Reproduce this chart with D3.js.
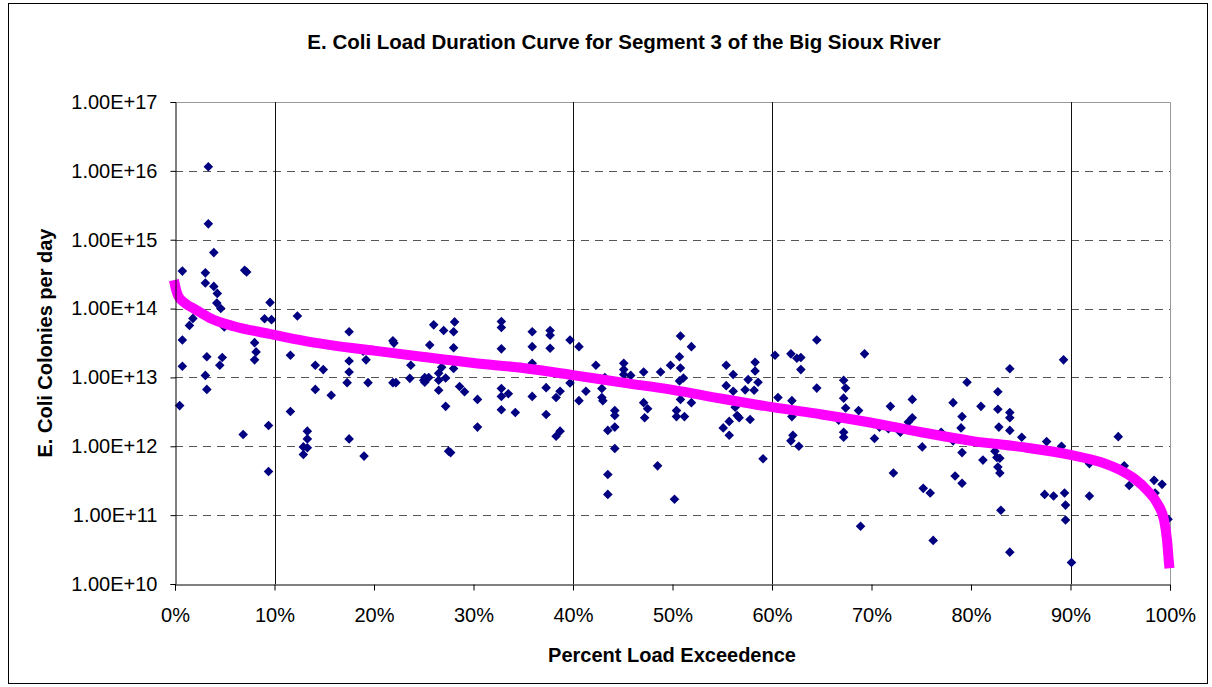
<!DOCTYPE html>
<html>
<head>
<meta charset="utf-8">
<script src="https://cdn.jsdelivr.net/npm/d3@7"></script>
<style>
  html, body { margin: 0; padding: 0; background: #fff; }
  svg { display: block; }
  text { font-family: "Liberation Sans", Arial, sans-serif; }
</style>
</head>
<body>
<svg id="chart" width="1212" height="687"></svg>
<script>
// ---------- DATA ----------
const chartTitle = "E. Coli Load Duration Curve for Segment 3 of the Big Sioux River";
const xAxisTitle = "Percent Load Exceedence";
const yAxisTitle = "E. Coli Colonies per day";

const xTicks = [0, 10, 20, 30, 40, 50, 60, 70, 80, 90, 100];
const xTickLabels = ["0%", "10%", "20%", "30%", "40%", "50%", "60%", "70%", "80%", "90%", "100%"];
const yTicks = [1e10, 1e11, 1e12, 1e13, 1e14, 1e15, 1e16, 1e17];
const yTickLabels = ["1.00E+10", "1.00E+11", "1.00E+12", "1.00E+13", "1.00E+14", "1.00E+15", "1.00E+16", "1.00E+17"];
const flowZoneBreaks = [10, 40, 60, 90];

// Load duration curve (percent exceedance, colonies/day)
const curvePct = [0, 0.1, 0.3, 1, 2, 3.5, 6, 9.5, 13, 16, 20, 25, 30, 35, 40, 45, 50, 55, 60, 65, 70, 75, 80, 85, 90, 93, 95, 96.4, 97.7, 98.7, 99.4, 99.7, 99.85, 99.9];
const curveLoad = [2.2e14, 1.9e14, 1.55e14, 1.2e14, 9.8e13, 7.3e13, 5.5e13, 4.3e13, 3.4e13, 2.9e13, 2.45e13, 1.98e13, 1.62e13, 1.37e13, 1.08e13, 8.4e12, 6.6e12, 4.9e12, 3.7e12, 2.9e12, 2.2e12, 1.6e12, 1.2e12, 9.8e11, 7.5e11, 5.9e11, 4.5e11, 3.4e11, 2.3e11, 1.5e11, 8.5e10, 4.4e10, 2.4e10, 2.0e10];

// Observed samples (percent exceedance, colonies/day)
const samplePct = [
  3.35, 3.35, 3.9, 0.74, 3.05, 7.0, 7.2, 3.05, 3.9, 4.25, 4.2, 4.6, 4.95, 1.8, 1.45, 9.55, 9.0, 9.7, 0.74, 0.74,
  3.2, 4.75, 4.5, 3.05, 3.2, 0.47, 8.0, 8.15, 8.0, 6.85, 9.4, 9.4, 12.3, 11.6, 11.6, 14.1, 14.9, 14.1, 15.7, 13.3,
  13.3, 12.9, 13.3, 12.9, 17.5, 17.5, 17.5, 17.3, 19.2, 19.4, 17.5, 19.0, 21.9, 22.0, 23.7, 21.9, 22.2, 23.6, 25.0, 18.9,
  26.0, 27.0, 28.1, 28.0, 25.6, 28.0, 25.1, 25.5, 25.1, 26.5, 26.5, 26.8, 27.2, 28.0, 26.5, 28.6, 29.1, 27.2, 30.4, 30.4,
  27.5, 27.7, 32.8, 32.8, 32.8, 32.8, 32.8, 33.5, 32.8, 34.2, 35.9, 35.9, 35.9, 37.7, 37.7, 37.7, 35.9, 37.3, 38.7, 38.3,
  37.3, 38.7, 38.3, 39.7, 40.6, 39.7, 40.6, 41.3, 42.3, 43.2, 42.9, 42.9, 43.0, 44.2, 44.2, 43.5, 44.2, 44.2, 43.5, 43.5,
  45.1, 45.1, 45.1, 45.8, 47.1, 48.8, 49.8, 47.1, 47.5, 47.2, 48.5, 50.2,
  50.8, 51.9, 50.7, 50.8, 51.1, 50.7, 50.8, 51.9, 50.4, 50.4, 51.2, 55.4, 56.1, 55.4, 56.1, 56.3, 56.5, 56.7, 55.7, 55.1,
  55.7, 57.3, 57.6, 58.3, 58.3, 58.6, 58.2, 57.8, 59.1, 60.3, 60.6, 61.9, 62.5, 62.9, 62.9, 64.5, 62.0, 62.0, 62.1, 61.9,
  62.7, 64.5, 67.2, 67.4, 67.2, 67.4, 66.7, 67.2, 67.2, 68.7, 69.3, 70.3, 71.9, 71.7, 72.9, 74.1, 74.1, 73.7, 72.2, 68.9,
  75.1, 75.2, 70.8,
  89.3, 83.9, 79.6, 82.7, 78.2, 81.0, 82.7, 83.9, 83.9, 79.1, 79.0, 82.8, 83.9, 85.1, 87.6, 89.1, 79.1, 81.2, 82.4, 82.6,
  82.9, 82.7, 82.9, 78.4, 79.1, 75.9, 83.0, 76.2, 83.9, 87.4, 88.3, 89.4, 89.5, 89.5, 90.1, 91.9, 94.8, 95.4, 95.9, 98.4,
  99.2, 98.5, 99.8, 77.0, 78.2, 91.9
];
const sampleLoad = [
  1.15e16, 1.7e15, 6.5e14, 3.5e14, 3.3e14, 3.6e14, 3.4e14, 2.35e14, 2.1e14, 1.66e14, 1.2e14, 1.0e14, 5.4e13, 7.2e13, 5.7e13, 1.23e14, 7.1e13, 6.9e13, 3.5e13, 1.45e13,
  2.0e13, 1.95e13, 1.5e13, 1.07e13, 6.7e12, 3.9e12, 3.2e13, 2.35e13, 1.8e13, 1.48e12, 2.0e12, 4.3e11, 7.8e13, 2.1e13, 3.2e12, 1.5e13, 1.3e13, 6.7e12, 5.5e12, 1.66e12,
  1.28e12, 9.8e11, 9.5e11, 7.6e11, 4.6e13, 1.73e13, 1.2e13, 8.4e12, 1.8e13, 8.4e12, 1.28e12, 7.2e11, 3.4e13, 3.15e13, 1.5e13, 8.4e12, 8.4e12, 9.7e12, 9.1e12, 2.4e13,
  5.8e13, 4.8e13, 6.4e13, 4.6e13, 2.96e13, 2.7e13, 1.0e13, 1.0e13, 8.5e12, 1.15e13, 9.1e12, 1.4e13, 9.8e12, 1.35e13, 6.5e12, 7.4e12, 6.2e12, 3.8e12, 4.8e12, 1.9e12,
  8.5e11, 8.1e11, 6.5e13, 5.3e13, 2.6e13, 6.9e12, 5.3e12, 5.8e12, 3.4e12, 3.1e12, 4.6e13, 2.8e13, 1.6e13, 4.8e13, 4.1e13, 2.65e13, 5.3e12, 7.1e12, 6.3e12, 5.1e12,
  2.9e12, 1.66e12, 1.4e12, 3.5e13, 2.8e13, 8.3e12, 4.6e12, 6.3e12, 1.5e13, 1.0e13, 6.9e12, 5.1e12, 4.6e12, 3.3e12, 2.8e12, 1.7e12, 1.9e12, 9.3e11, 3.9e11, 2.0e11,
  1.6e13, 1.3e13, 1.1e13, 1.07e13, 1.2e13, 1.2e13, 1.5e13, 4.3e12, 3.5e12, 2.6e12, 5.2e11, 1.7e11,
  4.0e13, 2.8e13, 2.0e13, 1.37e13, 9.8e12, 8.9e12, 4.8e12, 4.3e12, 3.3e12, 2.7e12, 2.7e12, 1.5e13, 1.1e13, 7.6e12, 6.3e12, 3.7e12, 2.8e12, 2.6e12, 2.3e12, 1.85e12,
  1.45e12, 6.6e12, 9.3e12, 1.66e13, 1.24e13, 8.5e12, 6.5e12, 2.45e12, 6.6e11, 2.1e13, 5.1e12, 2.2e13, 1.9e13, 1.95e13, 1.3e13, 3.5e13, 4.6e12, 2.7e12, 1.45e12, 1.2e12,
  1.0e12, 7.0e12, 9.1e12, 7.0e12, 5.0e12, 3.6e12, 2.4e12, 1.6e12, 1.35e12, 3.3e12, 2.2e13, 1.3e12, 3.8e12, 1.8e12, 1.6e12, 4.8e12, 2.6e12, 2.25e12, 4.1e11, 6.9e10,
  9.8e11, 2.45e11, 1.9e12,
  1.8e13, 1.34e13, 8.5e12, 6.2e12, 4.3e12, 3.8e12, 3.45e12, 3.1e12, 2.6e12, 2.7e12, 1.85e12, 1.9e12, 1.7e12, 1.35e12, 1.17e12, 1.0e12, 8.1e11, 6.3e11, 8.5e11, 6.9e11,
  6.7e11, 5.0e11, 4.1e11, 3.7e11, 2.9e11, 2.1e11, 1.18e11, 4.3e10, 2.9e10, 2.0e11, 1.9e11, 2.1e11, 1.4e11, 8.5e10, 2.05e10, 1.9e11, 1.38e12, 5.2e11, 2.7e11, 3.2e11,
  2.8e11, 2.1e11, 8.7e10, 1.6e12, 1.2e12, 5.6e11
];

// ---------- LAYOUT ----------
const W = 1212, H = 687;
const plot = { left: 175, top: 102, right: 1170, bottom: 584 };

const svg = d3.select("#chart");

// outer frame
svg.append("rect")
  .attr("x", 8.5).attr("y", 3.5)
  .attr("width", 1199).attr("height", 680)
  .attr("fill", "#fff").attr("stroke", "#000").attr("stroke-width", 1);

const x = d3.scaleLinear().domain([0, 100]).range([plot.left, plot.right]);
const y = d3.scaleLog().domain([1e10, 1e17]).range([plot.bottom, plot.top]);

// horizontal dashed gridlines
svg.append("g")
  .selectAll("line")
  .data(yTicks.filter(d => d > 1e10 && d < 1e17))
  .join("line")
  .attr("x1", plot.left).attr("x2", plot.right)
  .attr("y1", d => Math.round(y(d)) + 0.5).attr("y2", d => Math.round(y(d)) + 0.5)
  .attr("stroke", "#555").attr("stroke-width", 1)
  .attr("stroke-dasharray", "8,6");

// plot border top/right (gray)
svg.append("path")
  .attr("d", `M${plot.left},${plot.top + 0.5}H${plot.right + 0.5}V${plot.bottom}`)
  .attr("fill", "none").attr("stroke", "#9a9a9a").attr("stroke-width", 1);

// flow zone vertical lines
svg.append("g")
  .selectAll("line")
  .data(flowZoneBreaks)
  .join("line")
  .attr("x1", d => Math.round(x(d)) + 0.5).attr("x2", d => Math.round(x(d)) + 0.5)
  .attr("y1", plot.top).attr("y2", plot.bottom)
  .attr("stroke", "#111").attr("stroke-width", 1);

// samples (navy diamonds)
const diamond = d3.symbol().type(d3.symbolSquare).size(46);
svg.append("g")
  .selectAll("path")
  .data(samplePct.map((p, i) => [p, sampleLoad[i]]))
  .join("path")
  .attr("d", diamond)
  .attr("transform", d => `translate(${x(d[0])},${y(d[1])}) rotate(45)`)
  .attr("fill", "#000080");

// duration curve (magenta)
const curveData = curvePct.map((p, i) => [p, curveLoad[i]]);
svg.append("path")
  .datum(curveData)
  .attr("d", d3.line().x(d => x(d[0])).y(d => y(d[1])).curve(d3.curveMonotoneX))
  .attr("fill", "none")
  .attr("stroke", "#FF00FF")
  .attr("stroke-width", 10)
  .attr("stroke-linecap", "square")
  .attr("stroke-linejoin", "round");

// axes
const yAxis = d3.axisLeft(y)
  .tickValues(yTicks)
  .tickFormat((d, i) => yTickLabels[i])
  .tickSize(5).tickPadding(13);
const gy = svg.append("g").attr("transform", `translate(${plot.left + 0.5},0)`).call(yAxis);
gy.select(".domain").attr("stroke", "#000");
gy.selectAll(".tick line").attr("stroke", "#000");
gy.selectAll("text").attr("font-size", 20).attr("fill", "#000")
  .style("font-family", '"Liberation Sans", Arial, sans-serif');

const xAxis = d3.axisBottom(x)
  .tickValues(xTicks)
  .tickFormat((d, i) => xTickLabels[i])
  .tickSize(6).tickPadding(17);
const gx = svg.append("g").attr("transform", `translate(0,${plot.bottom + 0.5})`).call(xAxis);
gx.select(".domain").attr("stroke", "#000");
gx.selectAll(".tick line").attr("stroke", "#000");
gx.selectAll("text").attr("font-size", 20).attr("fill", "#000")
  .style("font-family", '"Liberation Sans", Arial, sans-serif');

// titles
svg.append("text")
  .attr("x", 624).attr("y", 49)
  .attr("text-anchor", "middle")
  .attr("font-size", 20.5).attr("font-weight", "bold")
  .text(chartTitle);

svg.append("text")
  .attr("x", 672).attr("y", 662)
  .attr("text-anchor", "middle")
  .attr("font-size", 20).attr("font-weight", "bold")
  .text(xAxisTitle);

svg.append("text")
  .attr("transform", "translate(52,343) rotate(-90)")
  .attr("text-anchor", "middle")
  .attr("font-size", 20).attr("font-weight", "bold")
  .text(yAxisTitle);
</script>
</body>
</html>
